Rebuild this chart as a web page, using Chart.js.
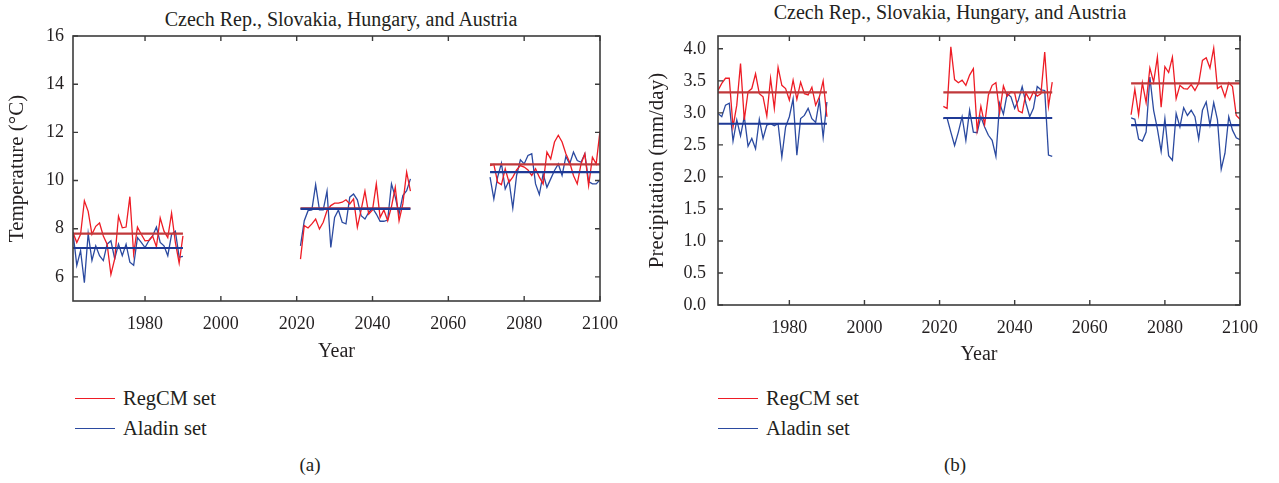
<!DOCTYPE html>
<html lang="en">
<head>
    <meta charset="UTF-8">
    <title>Czech Rep., Slovakia, Hungary, and Austria</title>
    <script src="https://cdn.jsdelivr.net/npm/chart.js"></script>
    <style>
        body {
            margin: 0;
            width: 1279px;
            height: 483px;
            background: #fff;
            position: relative;
            overflow: hidden;
            font-family: "Liberation Serif", serif;
            color: #231f20;
        }
        .chart-box {
            position: absolute;
            top: 0;
            height: 370px;
        }
        .title {
            position: absolute;
            font-size: 20px;
            white-space: nowrap;
            transform: translate(-50%, -50%);
        }
        .legend-row {
            position: absolute;
            font-size: 20.5px;
            white-space: nowrap;
            line-height: 20px;
        }
        .legend-row span.swatch {
            position: absolute;
            left: 0;
            top: 10px;
            width: 40px;
            height: 0;
            border-top: 1.5px solid;
        }
        .legend-row span.label {
            position: absolute;
            left: 48px;
            top: 0;
        }
        .caption {
            position: absolute;
            font-size: 19px;
            transform: translate(-50%, -50%);
        }
    </style>
</head>
<body>
    <div class="title" style="left:341px; top:19px;">Czech Rep., Slovakia, Hungary, and Austria</div>
    <div class="title" style="left:950px; top:12px;">Czech Rep., Slovakia, Hungary, and Austria</div>

    <div class="chart-box" style="left:0; width:640px;"><canvas id="tempChart" width="640" height="370"></canvas></div>
    <div class="chart-box" style="left:640px; width:639px;"><canvas id="precChart" width="639" height="370"></canvas></div>

    <!-- legends -->
    <div class="legend-row" style="left:75px; top:388px;"><span class="swatch" style="border-color:#ee1c25"></span><span class="label">RegCM set</span></div>
    <div class="legend-row" style="left:75px; top:418px;"><span class="swatch" style="border-color:#2b4aa0"></span><span class="label">Aladin set</span></div>
    <div class="legend-row" style="left:718px; top:388px;"><span class="swatch" style="border-color:#ee1c25"></span><span class="label">RegCM set</span></div>
    <div class="legend-row" style="left:718px; top:418px;"><span class="swatch" style="border-color:#2b4aa0"></span><span class="label">Aladin set</span></div>

    <div class="caption" style="left:310px; top:465px;">(a)</div>
    <div class="caption" style="left:955px; top:465px;">(b)</div>

    <script>
        // first year of each 30-year period
        const periodStarts = [1961, 2021, 2071];
        const yearTicks = [1980, 2000, 2020, 2040, 2060, 2080, 2100];
        const tempTicks = [6, 8, 10, 12, 14, 16];
        const precTicks = [0, 0.5, 1, 1.5, 2, 2.5, 3, 3.5, 4];

        // annual mean temperature (°C)
        const tempRegcm1961 = [7.84, 7.43, 7.77, 9.16, 8.72, 7.77, 8.1, 8.24, 7.7, 7.36, 6.1, 6.75, 8.52, 8.04, 8.07, 9.33, 6.95, 8.07, 7.77, 7.5, 7.52, 7.7, 7.25, 8.45, 7.9, 7.63, 8.65, 7.43, 6.57, 7.7];
        const tempRegcm2021 = [6.74, 8.13, 8.03, 8.2, 8.4, 7.99, 8.27, 8.75, 8.96, 9.06, 9.06, 9.1, 9.2, 9.03, 9.24, 8.06, 8.78, 9.56, 8.61, 8.78, 9.86, 8.47, 8.78, 8.33, 8.92, 9.72, 8.33, 9.03, 10.35, 9.56];
        const tempRegcm2071 = [10.62, 10.67, 9.93, 9.83, 10.49, 9.93, 10.14, 10.44, 10.62, 10.56, 10.44, 10.21, 10.49, 10.14, 9.86, 11.18, 10.9, 11.6, 11.88, 11.6, 11.11, 10.76, 10.21, 9.86, 10.69, 11.11, 9.79, 10.97, 10.69, 12.06];
        const tempAladin1961 = [7.84, 6.48, 7.09, 5.76, 7.8, 6.68, 7.29, 6.88, 6.68, 7.36, 7.5, 6.75, 7.36, 6.88, 7.36, 6.61, 6.48, 7.63, 7.43, 7.22, 7.5, 7.7, 8.07, 7.43, 7.29, 6.88, 7.77, 7.9, 6.82, 6.85];
        const tempAladin2021 = [7.29, 8.33, 8.75, 8.78, 9.83, 8.78, 8.78, 9.56, 7.22, 8.47, 8.78, 8.27, 8.2, 9.31, 9.44, 9.2, 8.54, 8.4, 8.68, 8.86, 8.61, 8.31, 8.31, 8.36, 9.86, 9.31, 8.61, 9.38, 9.58, 10.07];
        const tempAladin2071 = [10.14, 9.24, 10.14, 10.72, 9.65, 10.0, 8.86, 10.21, 10.86, 10.69, 11.04, 11.11, 9.86, 9.42, 10.28, 9.72, 10.07, 10.42, 10.69, 10.21, 11.0, 10.69, 11.18, 10.83, 10.76, 11.11, 9.96, 9.86, 9.86, 10.03];
        const tempRegcmMean = [7.8, 8.85, 10.67];
        const tempAladinMean = [7.2, 8.82, 10.35];

        // annual mean precipitation (mm/day)
        const precRegcm1961 = [3.35, 3.46, 3.54, 3.54, 2.78, 3.12, 3.77, 2.89, 3.33, 3.38, 3.61, 3.3, 3.25, 2.95, 3.54, 3.07, 3.71, 3.43, 3.38, 3.2, 3.51, 3.21, 3.48, 3.3, 3.28, 3.4, 3.12, 3.25, 3.5, 2.94];
        const precRegcm2021 = [3.1, 3.07, 4.03, 3.52, 3.47, 3.51, 3.43, 3.59, 3.69, 2.73, 3.1, 2.82, 3.28, 3.43, 3.47, 3.0, 3.42, 3.26, 3.33, 3.31, 3.03, 3.0, 3.31, 3.2, 3.33, 3.26, 3.3, 3.95, 3.1, 3.48];
        const precRegcm2071 = [2.97, 3.37, 2.97, 3.47, 3.16, 3.7, 3.48, 3.87, 3.09, 3.72, 3.63, 3.87, 3.22, 3.43, 3.38, 3.37, 3.44, 3.35, 3.46, 3.82, 3.86, 3.7, 4.01, 3.38, 3.42, 3.25, 3.47, 3.41, 2.96, 2.9];
        const precAladin1961 = [2.99, 2.94, 3.12, 3.15, 2.56, 2.89, 2.64, 2.94, 2.48, 2.6, 2.44, 2.9, 2.6, 2.81, 2.83, 2.8, 2.83, 2.31, 2.78, 2.94, 3.22, 2.34, 2.91, 2.96, 3.07, 2.91, 2.85, 3.2, 2.62, 3.17];
        const precAladin2021 = [2.91, 2.92, 2.7, 2.49, 2.7, 2.94, 2.57, 3.04, 2.7, 2.69, 2.94, 2.78, 2.65, 2.57, 2.32, 3.15, 2.98, 3.3, 3.25, 3.07, 3.2, 3.41, 3.15, 2.94, 3.07, 3.41, 3.36, 3.35, 2.34, 2.32];
        const precAladin2071 = [2.92, 2.9, 2.59, 2.56, 2.7, 3.56, 3.04, 2.75, 2.4, 2.91, 2.33, 2.26, 2.99, 2.78, 3.08, 2.96, 3.04, 2.94, 2.59, 3.04, 3.17, 2.81, 3.16, 2.89, 2.12, 2.37, 2.94, 2.73, 2.61, 2.58];
        const precRegcmMean = [3.32, 3.32, 3.46];
        const precAladinMean = [2.83, 2.92, 2.81];

        const RED = '#ee1c25';
        const BLUE = '#2b4aa0';
        const RED_MEAN = '#c0393b';
        const BLUE_MEAN = '#1f3a96';

        Chart.defaults.font.family = '"Liberation Serif", serif';
        Chart.defaults.color = '#231f20';

        // join the periods into one line with gaps between them
        function series(periods) {
            const pts = [];
            periods.forEach((vals, p) => {
                if (p > 0) pts.push({ x: periodStarts[p] - 1, y: null });
                vals.forEach((v, i) => pts.push({ x: periodStarts[p] + i, y: v }));
            });
            return pts;
        }

        function meanSeries(means) {
            const pts = [];
            means.forEach((m, p) => {
                if (p > 0) pts.push({ x: periodStarts[p] - 1, y: null });
                pts.push({ x: periodStarts[p], y: m }, { x: periodStarts[p] + 29, y: m });
            });
            return pts;
        }

        // box round the plot with inward ticks on all four sides
        const framePlugin = {
            id: 'frame',
            afterDatasetsDraw(chart) {
                const { ctx, chartArea: a, scales } = chart;
                const len = 5;
                ctx.save();
                ctx.strokeStyle = '#3c3c3c';
                ctx.lineWidth = 1.6;
                ctx.strokeRect(a.left, a.top, a.right - a.left, a.bottom - a.top);
                ctx.beginPath();
                scales.x.ticks.forEach(t => {
                    const px = scales.x.getPixelForValue(t.value);
                    ctx.moveTo(px, a.bottom); ctx.lineTo(px, a.bottom - len);
                    ctx.moveTo(px, a.top); ctx.lineTo(px, a.top + len);
                });
                scales.y.ticks.forEach(t => {
                    const py = scales.y.getPixelForValue(t.value);
                    ctx.moveTo(a.left, py); ctx.lineTo(a.left + len, py);
                    ctx.moveTo(a.right, py); ctx.lineTo(a.right - len, py);
                });
                ctx.lineWidth = 1.4;
                ctx.stroke();
                ctx.restore();
            }
        };

        function makeChart(id, reg, ala, regMean, alaMean, cfg) {
            const ctx = document.getElementById(id).getContext('2d');
            return new Chart(ctx, {
                type: 'line',
                data: {
                    datasets: [
                        { label: 'Aladin mean', data: meanSeries(alaMean), borderColor: BLUE_MEAN, borderWidth: 2.2, order: 1 },
                        { label: 'RegCM mean', data: meanSeries(regMean), borderColor: RED_MEAN, borderWidth: 2.2, order: 2 },
                        { label: 'RegCM set', data: series(reg), borderColor: RED, borderWidth: 1.3, order: 3 },
                        { label: 'Aladin set', data: series(ala), borderColor: BLUE, borderWidth: 1.3, order: 4 }
                    ]
                },
                options: {
                    responsive: false,
                    animation: false,
                    spanGaps: false,
                    elements: { point: { radius: 0 }, line: { tension: 0 } },
                    layout: { padding: { top: 36, right: cfg.padRight, bottom: 0, left: 0 } },
                    plugins: { legend: { display: false }, tooltip: { enabled: false } },
                    scales: {
                        x: {
                            type: 'linear',
                            min: 1961,
                            max: 2100,
                            grid: { display: false, drawTicks: false },
                            border: { display: false },
                            afterBuildTicks: s => { s.ticks = yearTicks.map(v => ({ value: v })); },
                            afterFit: s => { s.height = cfg.xHeight; },
                            ticks: { font: { size: 18 }, padding: 12, maxRotation: 0, callback: v => String(v) },
                            title: { display: true, text: 'Year', font: { size: 20 }, padding: { top: 0, bottom: cfg.yearPad } }
                        },
                        y: {
                            min: cfg.yMin,
                            max: cfg.yMax,
                            grid: { display: false, drawTicks: false },
                            border: { display: false },
                            afterBuildTicks: s => { s.ticks = cfg.ticks.map(v => ({ value: v })); },
                            afterFit: s => { s.width = cfg.yWidth; },
                            ticks: { font: { size: 18 }, padding: cfg.yPad, callback: cfg.fmt },
                            title: { display: true, text: cfg.yTitle, font: { size: 21 }, padding: { top: 5, bottom: 0 } }
                        }
                    }
                },
                plugins: [framePlugin]
            });
        }

        makeChart('tempChart',
            [tempRegcm1961, tempRegcm2021, tempRegcm2071],
            [tempAladin1961, tempAladin2021, tempAladin2071],
            tempRegcmMean, tempAladinMean,
            { padRight: 40, xHeight: 69, yWidth: 73, yPad: 9, yearPad: 6, yMin: 5, yMax: 16, ticks: tempTicks,
              fmt: v => String(v), yTitle: 'Temperature (°C)' });

        makeChart('precChart',
            [precRegcm1961, precRegcm2021, precRegcm2071],
            [precAladin1961, precAladin2021, precAladin2071],
            precRegcmMean, precAladinMean,
            { padRight: 39, xHeight: 65, yWidth: 78, yPad: 12, yearPad: 3, yMin: 0, yMax: 4.2, ticks: precTicks,
              fmt: v => Number(v).toFixed(1), yTitle: 'Precipitation (mm/day)' });
    </script>
</body>
</html>
